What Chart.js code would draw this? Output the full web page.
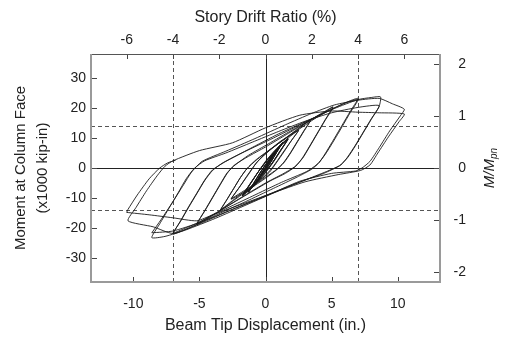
<!DOCTYPE html>
<html>
<head>
<meta charset="utf-8">
<script src="https://cdn.jsdelivr.net/npm/chart.js@4.4.0/dist/chart.umd.min.js"></script>
<style>
  html, body { margin: 0; padding: 0; background: #fff; }
  #wrap { width: 505px; height: 338px; }
</style>
</head>
<body>
<div id="wrap"><canvas id="chart" width="505" height="338"></canvas></div>
<script>
// Beam tip displacement (in.) vs moment at column face (x1000 kip-in)
const dispTicks = [-10, -5, 0, 5, 10];
const driftTicks = [-6, -4, -2, 0, 2, 4, 6];
const momentTicks = [-30, -20, -10, 0, 10, 20, 30];
const ratioTicks = [-2, -1, 0, 1, 2];
const dispLimits = [-7, 7];      // 4% drift
const momentLimits = [-14, 14];
const mpn = 17.3;                // moment per unit M/Mpn
const inchPerPct = 7 / 4;

const drift0375 = [[0,0],[0.33,2.4],[0.66,4.8],[0.45,3.2],[0,0.1],[-0.33,-2.2],[-0.66,-4.5],[-0.45,-3.0],[0,-0.1],[0.33,2.3],[0.66,4.9],[0.44,3.3],[-0.02,0],[-0.66,-4.6],[-0.44,-2.9],[0.02,0.2],[0.66,4.8],[0.45,3.3],[-0.66,-4.6]];
const drift05 = [[-0.66,-4.6],[-0.3,-2.1],[0.2,1.6],[0.88,6.2],[0.6,4.2],[0.05,0.2],[-0.4,-2.8],[-0.88,-6.0],[-0.6,-3.9],[-0.05,0.1],[0.4,3.0],[0.88,6.3],[0.58,4.1],[0.02,0],[-0.42,-2.9],[-0.88,-6.1],[-0.58,-3.8],[0,0.3],[0.88,6.2],[0.6,4.3],[-0.88,-6.0]];
const drift075 = [[-0.88,-6.0],[-0.5,-3.2],[0.1,0.9],[0.7,4.8],[1.3,8.3],[0.95,6.0],[0.3,1.2],[-0.3,-2.4],[-0.8,-5.4],[-1.3,-7.9],[-0.95,-5.4],[-0.3,-0.8],[0.3,2.8],[0.8,5.9],[1.3,8.5],[0.92,5.8],[0.25,0.9],[-0.35,-2.7],[-1.3,-8.0],[-0.9,-5.1],[-0.2,-0.2],[0.5,4.1],[1.3,8.6],[0.9,5.7],[0.2,0.6],[-1.3,-8.1],[-0.85,-5.0],[-0.15,0.2],[0.55,4.4],[1.3,8.5],[0.88,5.6],[0.15,0.4],[-0.5,-3.6],[-1.3,-8.1]];
const drift1 = [[-1.3,-8.1],[-0.9,-5.3],[-0.3,-1.0],[0.3,3.0],[0.9,6.6],[1.7,9.6],[1.25,6.4],[0.6,2.0],[0,-1.6],[-0.7,-5.0],[-1.75,-9.2],[-1.3,-6.1],[-0.6,-1.6],[0.1,2.6],[0.8,6.2],[1.7,9.7],[1.2,6.2],[0.5,1.6],[-0.1,-2.0],[-0.8,-5.4],[-1.75,-9.3],[-1.25,-5.9],[-0.5,-1.0],[0.2,3.0],[1.7,9.8],[1.2,6.3],[0.45,1.3],[-1.75,-9.3],[-1.2,-5.7],[-0.45,-0.7],[0.3,3.4],[1.7,9.7],[1.15,6.0],[0.4,1.0],[-0.3,-2.8],[-1.75,-9.3]];
const drift15 = [[-1.75,-9.3],[-1.2,-5.6],[-0.6,-1.6],[0,2.2],[0.7,5.8],[1.5,9.2],[2.0,11.0],[2.5,12.6],[2.0,9.4],[1.4,5.4],[0.8,1.6],[0.3,-1.4],[-0.5,-4.4],[-1.5,-7.6],[-2.6,-10.4],[-2.0,-6.6],[-1.3,-2.2],[-0.7,1.6],[0.1,5.2],[1.1,8.8],[1.9,11.0],[2.5,12.5],[1.9,8.8],[1.2,4.4],[0.6,0.6],[0,-2.4],[-1.0,-5.8],[-2.6,-10.3]];
const drift2 = [[-2.6,-10.3],[-1.9,-5.9],[-1.3,-2.0],[-0.6,2.2],[0.3,5.8],[1.4,9.6],[2.5,13.2],[3.4,16.0],[2.9,12.4],[2.4,8.8],[1.9,5.2],[1.4,2.0],[0.9,-0.4],[0,-3.4],[-1.2,-7.0],[-2.4,-10.8],[-3.4,-14.0],[-2.9,-10.4],[-2.4,-6.8],[-1.9,-3.2],[-1.4,-0.2],[-0.7,2.6],[0.5,6.6],[1.8,10.8],[2.7,13.8],[3.4,15.8],[2.9,12.2],[2.4,8.6],[1.9,5.0],[1.4,1.8],[0.8,-0.6],[-0.5,-4.6],[-2.0,-9.2],[-3.4,-14.0]];
const drift3 = [[-3.4,-14.0],[-2.9,-10.4],[-2.4,-6.8],[-1.9,-3.2],[-1.4,-0.2],[-0.7,2.8],[0.6,7.0],[2.1,11.6],[3.5,15.8],[4.5,18.6],[5.1,20.4],[4.5,16.0],[3.9,11.5],[3.3,7.0],[2.8,3.4],[2.3,0.6],[1.5,-1.8],[0.4,-4.2],[-1.0,-7.8],[-2.6,-12.0],[-4.0,-15.8],[-5.2,-18.8],[-4.6,-14.4],[-4.0,-9.9],[-3.4,-5.4],[-2.9,-1.8],[-2.4,0.8],[-1.4,3.6],[0,7.0],[1.6,11.2],[3.1,15.2],[4.3,18.4],[5.1,20.2],[4.5,15.8],[3.9,11.3],[3.3,6.8],[2.8,3.2],[2.2,0.4],[1.3,-2.0],[0,-5.0],[-1.6,-9.2],[-3.3,-13.8],[-5.2,-18.6]];
const drift4 = [[-5.2,-18.6],[-4.6,-14.2],[-4.0,-9.7],[-3.4,-5.2],[-2.9,-1.6],[-2.3,1.0],[-1.3,4.2],[0.2,8.0],[2.0,12.6],[3.8,16.8],[5.4,20.4],[6.4,22.4],[7.0,23.2],[6.4,18.8],[5.8,14.3],[5.2,9.8],[4.6,5.4],[4.1,2.0],[3.5,-0.4],[2.4,-3.0],[0.6,-6.8],[-1.5,-11.2],[-3.6,-15.4],[-5.4,-19.2],[-7.0,-22.0],[-6.4,-17.6],[-5.8,-13.0],[-5.2,-8.6],[-4.6,-4.2],[-4.0,-0.8],[-3.2,1.8],[-1.6,5.4],[0.6,10.0],[2.6,14.4],[4.6,18.8],[6.1,21.8],[7.0,22.8],[6.4,18.4],[5.8,13.8],[5.1,8.6],[4.5,4.4],[3.9,1.2],[3.1,-1.2],[1.2,-4.8],[-1.0,-9.4],[-3.2,-14.0],[-5.3,-18.6],[-7.0,-21.8]];
const drift5 = [[-7.0,-21.8],[-6.4,-17.4],[-5.8,-12.8],[-5.2,-8.4],[-4.6,-4.0],[-4.0,-0.6],[-3.0,2.2],[-1.2,6.4],[1.0,11.4],[3.2,15.8],[5.2,19.8],[7.0,22.8],[8.0,23.5],[8.7,23.7],[8.6,20.6],[8.0,16.2],[7.4,11.8],[6.8,7.4],[6.2,3.4],[5.6,0.8],[4.6,-1.2],[3.0,-4.0],[1.0,-7.6],[-1.4,-12.2],[-3.8,-16.8],[-6.0,-20.6],[-7.6,-22.8],[-8.6,-23.2],[-8.0,-18.6],[-7.3,-13.4],[-6.6,-8.2],[-6.0,-3.6],[-5.4,-0.2],[-4.6,2.4],[-3.0,5.0],[-1.0,8.6],[1.0,12.2],[3.0,15.6],[5.0,18.4],[7.0,20.2],[8.6,20.8],[8.0,16.4],[7.4,12.0],[6.8,7.6],[6.2,3.6],[5.7,1.0],[4.4,-1.8],[2.4,-5.0],[0,-9.2],[-2.5,-13.8],[-5.0,-18.2],[-7.0,-21.0],[-8.6,-21.6]];
const drift6 = [[-8.6,-21.6],[-7.9,-17.2],[-7.0,-11.2],[-6.2,-5.6],[-5.6,-1.4],[-4.8,2.2],[-3.0,5.6],[-0.8,9.8],[1.5,14.4],[3.5,18.2],[5.2,21.0],[7.0,22.6],[8.6,23.2],[9.6,21.4],[10.5,19.6],[10.2,17.4],[9.4,12.4],[8.6,6.8],[7.9,2.2],[7.3,0],[6.8,-1.0],[5.0,-1.8],[2.6,-4.4],[0,-9.4],[-2.5,-13.8],[-5.0,-18.6],[-7.0,-21.8],[-8.5,-19.6],[-10.4,-17.6],[-9.8,-13.2],[-9.0,-7.6],[-8.2,-2.6],[-7.6,0.6],[-7.0,2.4],[-5.0,5.8],[-2.5,8.4],[0,13.4],[2.6,17.6],[5.0,19.0],[7.0,18.6],[8.6,18.4],[10.5,18.0],[10.1,15.4],[9.3,10.4],[8.5,5.0],[7.9,1.0],[7.2,-0.8],[5.5,-2.2],[3.0,-4.6],[0.5,-8.4],[-2.0,-12.4],[-4.0,-15.6],[-5.2,-17.6],[-7.0,-16.6],[-8.8,-15.6],[-10.5,-14.8]];
const finalReload = [[-10.5,-14.8],[-10.4,-13.8],[-9.7,-9.0],[-8.8,-3.6],[-8.0,0],[-7.4,1.7],[-6.8,2.6]];

const loops = [drift0375, drift05, drift075, drift1, drift15, drift2, drift3, drift4, drift5, drift6, finalReload];

const FONT = "'Liberation Sans', Arial, Helvetica, sans-serif";
const xMin = -13.2, xMax = 13.2, yMin = -38, yMax = 38;

function setTicks(values) {
    return scale => { scale.ticks = values.map(v => ({ value: v })); };
}

const framePlugin = {
    id: 'frame',
    beforeDatasetsDraw(chart) {
        const { ctx, chartArea: a, scales } = chart;
        const x = scales.x, y = scales.y;
        ctx.save();
        ctx.lineWidth = 1;
        // zero lines
        ctx.strokeStyle = '#222';
        ctx.beginPath();
        const x0 = Math.round(x.getPixelForValue(0)) + 0.5;
        const y0 = Math.round(y.getPixelForValue(0)) + 0.5;
        ctx.moveTo(x0, a.top); ctx.lineTo(x0, a.bottom);
        ctx.moveTo(a.left, y0); ctx.lineTo(a.right, y0);
        ctx.stroke();
        // limit lines
        ctx.strokeStyle = '#555';
        ctx.setLineDash([4, 3]);
        ctx.beginPath();
        dispLimits.forEach(v => {
            const px = Math.round(x.getPixelForValue(v)) + 0.5;
            ctx.moveTo(px, a.top); ctx.lineTo(px, a.bottom);
        });
        momentLimits.forEach(v => {
            const py = Math.round(y.getPixelForValue(v)) + 0.5;
            ctx.moveTo(a.left, py); ctx.lineTo(a.right, py);
        });
        ctx.stroke();
        ctx.restore();
    },
    afterDatasetsDraw(chart) {
        const { ctx, chartArea: a, scales } = chart;
        ctx.save();
        // ticks pointing inward
        ctx.strokeStyle = '#444';
        ctx.lineWidth = 1;
        ctx.beginPath();
        dispTicks.forEach(v => {
            const px = Math.round(scales.x.getPixelForValue(v)) + 0.5;
            ctx.moveTo(px, a.bottom); ctx.lineTo(px, a.bottom - 5);
        });
        driftTicks.forEach(v => {
            const px = Math.round(scales.x2.getPixelForValue(v)) + 0.5;
            ctx.moveTo(px, a.top); ctx.lineTo(px, a.top + 5);
        });
        momentTicks.forEach(v => {
            const py = Math.round(scales.y.getPixelForValue(v)) + 0.5;
            ctx.moveTo(a.left, py); ctx.lineTo(a.left + 6, py);
        });
        ratioTicks.forEach(v => {
            const py = Math.round(scales.y2.getPixelForValue(v)) + 0.5;
            ctx.moveTo(a.right, py); ctx.lineTo(a.right - 6, py);
        });
        ctx.stroke();
        // box
        ctx.strokeStyle = '#555';
        ctx.beginPath();
        ctx.moveTo(a.left, a.top + 0.5); ctx.lineTo(a.right, a.top + 0.5);
        ctx.stroke();
        ctx.strokeStyle = '#9a9a9a';
        ctx.lineWidth = 2;
        ctx.beginPath();
        ctx.moveTo(a.left, a.top); ctx.lineTo(a.left, a.bottom);
        ctx.lineTo(a.right, a.bottom); ctx.lineTo(a.right, a.top);
        ctx.stroke();
        ctx.restore();
    },
    afterDraw(chart) {
        const { ctx, chartArea: a } = chart;
        ctx.save();
        ctx.translate(490, (a.top + a.bottom) / 2);
        ctx.rotate(-Math.PI / 2);
        ctx.fillStyle = '#222';
        ctx.textBaseline = 'middle';
        ctx.font = 'italic 15px ' + FONT;
        const w1 = ctx.measureText('M/M').width;
        ctx.font = 'italic 10px ' + FONT;
        const w2 = ctx.measureText('pn').width;
        const start = -(w1 + w2) / 2;
        ctx.font = 'italic 15px ' + FONT;
        ctx.fillText('M/M', start, 0);
        ctx.font = 'italic 10px ' + FONT;
        ctx.fillText('pn', start + w1, 4);
        ctx.restore();
    }
};

const tickFont = { family: FONT, size: 14 };
const titleFont = { family: FONT, size: 16 };

new Chart(document.getElementById('chart'), {
    type: 'scatter',
    data: {
        datasets: loops.map(pts => ({
            data: pts.map(p => ({ x: p[0], y: p[1] })),
            showLine: true,
            borderColor: '#1a1a1a',
            borderWidth: 0.9,
            pointRadius: 0,
            tension: 0.2,
            xAxisID: 'x',
            yAxisID: 'y'
        }))
    },
    options: {
        responsive: false,
        animation: false,
        layout: { padding: { left: 0, right: 39, top: 0, bottom: 0 } },
        plugins: { legend: { display: false }, tooltip: { enabled: false } },
        scales: {
            x: {
                type: 'linear', position: 'bottom', min: xMin, max: xMax,
                afterBuildTicks: setTicks(dispTicks),
                afterFit: s => { s.height = 56; },
                grid: { display: false, drawTicks: false },
                border: { display: false },
                ticks: { padding: 14, color: '#222', font: tickFont, maxRotation: 0 },
                title: { display: true, text: 'Beam Tip Displacement (in.)', color: '#222', font: titleFont, padding: { top: 0, bottom: 3 } }
            },
            x2: {
                type: 'linear', axis: 'x', position: 'top',
                min: xMin / inchPerPct, max: xMax / inchPerPct,
                afterBuildTicks: setTicks(driftTicks),
                afterFit: s => { s.height = 54; },
                grid: { display: false, drawTicks: false },
                border: { display: false },
                ticks: { padding: 5, color: '#222', font: tickFont, maxRotation: 0 },
                title: { display: true, text: 'Story Drift Ratio (%)', color: '#222', font: titleFont, padding: { top: 8, bottom: 0 } }
            },
            y: {
                type: 'linear', position: 'left', min: yMin, max: yMax,
                afterBuildTicks: setTicks(momentTicks),
                afterFit: s => { s.width = 91; },
                grid: { display: false, drawTicks: false },
                border: { display: false },
                ticks: { padding: 5, color: '#222', font: tickFont },
                title: { display: true, text: ['Moment at Column Face', '(x1000 kip-in)'], color: '#222', font: { family: FONT, size: 15, lineHeight: 1.47 }, padding: { top: 10, bottom: 0 } }
            },
            y2: {
                type: 'linear', axis: 'y', position: 'right',
                min: yMin / mpn, max: yMax / mpn,
                afterBuildTicks: setTicks(ratioTicks),
                afterFit: s => { s.width = 26; },
                grid: { display: false, drawTicks: false },
                border: { display: false },
                ticks: { padding: 5, color: '#222', font: tickFont, crossAlign: 'far' }
            }
        }
    },
    plugins: [framePlugin]
});
</script>
</body>
</html>
